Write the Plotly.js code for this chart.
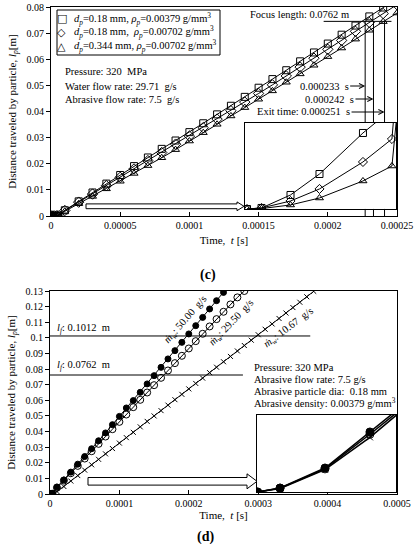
<!DOCTYPE html>
<html><head><meta charset="utf-8">
<script src="https://cdn.plot.ly/plotly-3.0.1.min.js"></script>
<style>html,body{margin:0;padding:0;background:#fff}#chart{width:419px;height:544px}</style>
</head><body><div id="chart"></div>
<script>
// ---------- data: panel (c) ----------
const tC = [0, 0.0000005, 0.0000015, 0.0000025, 0.000004, 0.000005,
  0.00001, 0.00002, 0.00003, 0.00004, 0.00005, 0.00006, 0.00007, 0.00008, 0.00009, 0.0001,
  0.00011, 0.00012, 0.00013, 0.00014, 0.00015, 0.00016, 0.00017, 0.00018, 0.00019, 0.0002,
  0.00021, 0.00022, 0.00023, 0.00024, 0.00025];
const lpSquare = [0, 0.0000012, 0.0000163, 0.0000407, 0.0000884, 0.000116,
  0.0022, 0.0056, 0.0090, 0.0124, 0.0157, 0.0191, 0.0224, 0.0257, 0.0289, 0.0321,
  0.0355, 0.0389, 0.0422, 0.0456, 0.0491, 0.0524, 0.0558, 0.0592, 0.0626, 0.0660,
  0.0694, 0.0729, 0.0764, 0.0798, 0.0832];
const lpDiamond = [0, 0.0000012, 0.0000093, 0.0000233, 0.0000547, 0.0000814,
  0.0021, 0.0053, 0.0084, 0.0116, 0.0148, 0.0180, 0.0212, 0.0243, 0.0275, 0.0306,
  0.0338, 0.0371, 0.0403, 0.0436, 0.0469, 0.0502, 0.0536, 0.0570, 0.0604, 0.0638,
  0.0672, 0.0707, 0.0741, 0.0775, 0.0809];
const lpTriangle = [0, 0.0000005, 0.0000047, 0.0000128, 0.0000326, 0.00005,
  0.0018, 0.0047, 0.0075, 0.0104, 0.0133, 0.0163, 0.0193, 0.0223, 0.0254, 0.0287,
  0.0319, 0.0351, 0.0383, 0.0415, 0.0447, 0.0479, 0.0512, 0.0544, 0.0577, 0.0610,
  0.0643, 0.0677, 0.0711, 0.0744, 0.0777];
const legendSymbols = ['□', '◇', '△'];
const namesC = [
  '<i>d</i><sub><i>p</i></sub>=0.18 mm, <i>ρ</i><sub><i>p</i></sub>=0.00379 g/mm<sup>3</sup>',
  '<i>d</i><sub><i>p</i></sub>=0.18 mm,\u00a0 <i>ρ</i><sub><i>p</i></sub>=0.00702 g/mm<sup>3</sup>',
  '<i>d</i><sub><i>p</i></sub>=0.344 mm, <i>ρ</i><sub><i>p</i></sub>=0.00702 g/mm<sup>3</sup>'];
const exitTimesDrawn = [0.000227, 0.000233, 0.000241];
const exitLabels = ['0.000233\u00a0 s', '0.000242\u00a0 s', 'Exit time: 0.000251\u00a0 s'];
const focusLineLevel = 0.0745;
const ticksCx = [0, 0.00005, 0.0001, 0.00015, 0.0002, 0.00025];
const ticksCxText = ['0', '0.00005', '0.0001', '0.00015', '0.0002', '0.00025'];
const ticksCy = [0, 0.01, 0.02, 0.03, 0.04, 0.05, 0.06, 0.07, 0.08];
const ticksCyText = ['0', '0.01', '0.02', '0.03', '0.04', '0.05', '0.06', '0.07', '0.08'];

// ---------- data: panel (d) ----------
const tD = [0, 0.0000005, 0.0000015, 0.0000025, 0.0000035,
  0.00001, 0.00002, 0.00003, 0.00004, 0.00005, 0.00006, 0.00007, 0.00008, 0.00009, 0.0001,
  0.00011, 0.00012, 0.00013, 0.00014, 0.00015, 0.00016, 0.00017, 0.00018, 0.00019, 0.0002,
  0.00021, 0.00022, 0.00023, 0.00024, 0.00025, 0.00026, 0.00027, 0.00028, 0.00029, 0.0003,
  0.00031, 0.00032, 0.00033, 0.00034, 0.00035, 0.00036, 0.00037, 0.00038];
const lpW50 = [0, 0.0000052, 0.0000312, 0.000078, 0.000125,
  0.0045, 0.0090, 0.0140, 0.0191, 0.0240, 0.0290, 0.0341, 0.0391, 0.0444, 0.0497,
  0.0551, 0.0598, 0.0651, 0.0705, 0.0758, 0.0811, 0.0865, 0.0918, 0.0971, 0.1025,
  0.1078, 0.1131, 0.1185, 0.1238, 0.1291, 0.1345];
const lpW29 = [0, 0.000005, 0.00003, 0.000075, 0.000122,
  0.0040, 0.0086, 0.0133, 0.0180, 0.0227, 0.0274, 0.0321, 0.0368, 0.0415, 0.0462,
  0.0509, 0.0556, 0.0603, 0.0650, 0.0697, 0.0744, 0.0791, 0.0838, 0.0885, 0.0932,
  0.0979, 0.1026, 0.1073, 0.1120, 0.1167, 0.1214, 0.1259, 0.1300];
const lpW10 = [0, 0.0000045, 0.000029, 0.000071, 0.00012,
  0.0016, 0.0048, 0.0083, 0.0118, 0.0153, 0.0187, 0.0222, 0.0257, 0.0291, 0.0326,
  0.0361, 0.0395, 0.0430, 0.0465, 0.0500, 0.0534, 0.0569, 0.0604, 0.0638, 0.0673,
  0.0708, 0.0742, 0.0777, 0.0812, 0.0847, 0.0881, 0.0916, 0.0951, 0.0985, 0.1020,
  0.1055, 0.1089, 0.1124, 0.1159, 0.1194, 0.1228, 0.1263, 0.1298];
const focusLengths = [0.1012, 0.0762];
const focusLabels = ['<i>l</i><sub><i>f</i></sub>: 0.1012\u00a0 m', '<i>l</i><sub><i>f</i></sub>: 0.0762\u00a0 m'];
const flowLabels = ['<i>ṁ</i><sub><i>w</i></sub>: 50.00\u00a0 g/s', '<i>ṁ</i><sub><i>w</i></sub>: 29.50\u00a0 g/s', '<i>ṁ</i><sub><i>w</i></sub>: 10.67\u00a0 g/s'];
const ticksDx = [0, 0.0001, 0.0002, 0.0003, 0.0004, 0.0005];
const ticksDxText = ['0', '0.0001', '0.0002', '0.0003', '0.0004', '0.0005'];
const ticksDy = [0, 0.01, 0.02, 0.03, 0.04, 0.05, 0.06, 0.07, 0.08, 0.09, 0.1, 0.11, 0.12, 0.13];
const ticksDyText = ['0', '0.01', '0.02', '0.03', '0.04', '0.05', '0.06', '0.07', '0.08', '0.09', '0.1', '0.11', '0.12', '0.13'];

// ---------- layout helpers ----------
const W = 419, H = 544;
const PX = p => p / W, PY = p => 1 - p / H;
const FONT = 'Liberation Serif, Times New Roman, serif';
const K = '#000';

function lineTr(x, y, xa, ya) {
  return {x: x, y: y, xaxis: xa, yaxis: ya, mode: 'lines', line: {color: K, width: 1}, showlegend: false, hoverinfo: 'skip'};
}
function markTr(x, y, xa, ya, sym, size) {
  return {x: x, y: y, xaxis: xa, yaxis: ya, mode: 'markers', showlegend: false,
    marker: {symbol: sym, size: size, color: K, line: {color: K, width: 1}}, hoverinfo: 'skip'};
}

const data = [];
// panel (c) main
[[lpSquare, 'square-open', 7], [lpDiamond, 'diamond-open', 8], [lpTriangle, 'triangle-up-open', 7]].forEach(s => {
  data.push(lineTr(tC, s[0], 'x', 'y'));
  data.push(markTr(tC, s[0], 'x', 'y', s[1], s[2]));
});
// panel (d) main
[[lpW50, 'circle', 6], [lpW29, 'circle-open', 7], [lpW10, 'x-thin-open', 5]].forEach(s => {
  data.push(lineTr(tD, s[0], 'x2', 'y2'));
  data.push(markTr(tD, s[0], 'x2', 'y2', s[1], s[2]));
});
// inset (c)
[[lpSquare, 'square-open', 7], [lpDiamond, 'diamond-open', 7], [lpTriangle, 'triangle-up-open', 7]].forEach(s => {
  data.push(lineTr(tC, s[0], 'x3', 'y3'));
  data.push(markTr(tC, s[0], 'x3', 'y3', s[1], s[2]));
});
// inset (d)
[[lpW50, 'circle', 8], [lpW29, 'circle-open', 8], [lpW10, 'x-thin-open', 6]].forEach(s => {
  const tr = lineTr(tD, s[0], 'x4', 'y4'); tr.line.width = 1.5;
  data.push(tr);
  data.push(markTr(tD, s[0], 'x4', 'y4', s[1], s[2]));
});

const axBase = {showline: true, mirror: true, linecolor: K, linewidth: 1, showgrid: false, zeroline: false,
  tickfont: {family: FONT, size: 10, color: K}, tickcolor: K, ticklen: 4};
const insetAx = {showline: true, mirror: true, linecolor: K, linewidth: 1, showgrid: false, zeroline: false,
  showticklabels: false, ticks: ''};

const layout = {
  width: W, height: H, margin: {l: 0, r: 0, t: 0, b: 0},
  paper_bgcolor: '#fff', plot_bgcolor: '#fff',
  font: {family: FONT, size: 10.5, color: K},
  showlegend: false,
  xaxis: Object.assign({}, axBase, {domain: [PX(51), PX(397)], range: [0, 0.00025], anchor: 'y',
    ticks: 'inside', tickvals: ticksCx, ticktext: ticksCxText,
    title: {text: 'Time,\u00a0 <i>t</i> [s]', font: {family: FONT, size: 11, color: K}, standoff: 6}}),
  yaxis: Object.assign({}, axBase, {domain: [PY(216), PY(7)], range: [0, 0.08], anchor: 'x',
    ticks: 'outside', tickvals: ticksCy, ticktext: ticksCyText,
    title: {text: 'Distance traveled by particle, <i>l</i><sub><i>p</i></sub>[m]', font: {family: FONT, size: 11, color: K}, standoff: 7}}),
  xaxis2: Object.assign({}, axBase, {domain: [PX(50), PX(397)], range: [0, 0.0005], anchor: 'y2',
    ticks: 'inside', tickvals: ticksDx, ticktext: ticksDxText,
    title: {text: 'Time,\u00a0 <i>t</i> [s]', font: {family: FONT, size: 11, color: K}, standoff: 2}}),
  yaxis2: Object.assign({}, axBase, {domain: [PY(494), PY(291)], range: [0, 0.13], anchor: 'x2',
    ticks: 'outside', tickvals: ticksDy, ticktext: ticksDyText,
    title: {text: 'Distance traveled by particle, <i>l</i><sub><i>p</i></sub>[m]', font: {family: FONT, size: 11, color: K}, standoff: 7}}),
  xaxis3: Object.assign({}, insetAx, {domain: [PX(245), PX(396)], range: [-0.00000007, 0.00000514], anchor: 'y3'}),
  yaxis3: Object.assign({}, insetAx, {domain: [PY(209), PY(123)], range: [0, 0.0001], anchor: 'x3'}),
  xaxis4: Object.assign({}, insetAx, {domain: [PX(257), PX(396)], range: [-0.000000013, 0.00000308], anchor: 'y4'}),
  yaxis4: Object.assign({}, insetAx, {domain: [PY(492), PY(415)], range: [0, 0.0001], anchor: 'x4'}),
  shapes: [],
  annotations: []
};

const S = layout.shapes, A = layout.annotations;
// legend frame (c)
S.push({type: 'rect', xref: 'paper', yref: 'paper', x0: PX(57), x1: PX(220), y0: PY(55), y1: PY(10),
  fillcolor: '#fff', line: {color: K, width: 1}});
// focus length line (c) and exit-time verticals (interrupted by the inset)
S.push({type: 'line', xref: 'x', yref: 'y', x0: 0.000197, x1: 0.000246, y0: focusLineLevel, y1: focusLineLevel, line: {color: K, width: 1}});
exitTimesDrawn.forEach(tv => {
  S.push({type: 'line', xref: 'x', yref: 'y', x0: tv, x1: tv, y0: focusLineLevel, y1: 0.0356, line: {color: K, width: 1}});
  S.push({type: 'line', xref: 'x', yref: 'y', x0: tv, x1: tv, y0: 0.0027, y1: 0, line: {color: K, width: 1}});
});
// l_f lines (d)
S.push({type: 'line', xref: 'x2', yref: 'y2', x0: 0, x1: 0.000375, y0: focusLengths[0], y1: focusLengths[0], line: {color: K, width: 1}});
S.push({type: 'line', xref: 'x2', yref: 'y2', x0: 0, x1: 0.000278, y0: focusLengths[1], y1: focusLengths[1], line: {color: K, width: 1}});
// hollow block arrows pointing to the insets
function blockArrow(x0, x1, xh, yc, hb, hh) {
  const p = (x, y) => PX(x) + ',' + PY(y);
  return {type: 'path', xref: 'paper', yref: 'paper', fillcolor: '#fff', line: {color: K, width: 1},
    path: 'M' + p(x0, yc - hb) + ' L' + p(x1, yc - hb) + ' L' + p(x1, yc - hh) + ' L' + p(xh, yc) +
      ' L' + p(x1, yc + hh) + ' L' + p(x1, yc + hb) + ' L' + p(x0, yc + hb) + ' Z'};
}
S.push(blockArrow(86, 237, 244, 206.3, 2.4, 4.4));
S.push(blockArrow(88, 247, 257, 481.3, 3.8, 7.5));

function txt(x, y, text, extra) {
  A.push(Object.assign({xref: 'paper', yref: 'paper', x: PX(x), y: PY(y), text: text, showarrow: false,
    xanchor: 'left', yanchor: 'middle', font: {family: FONT, size: 10.5, color: K}}, extra || {}));
}
// legend entries (c)
const legY = [18.5, 32.5, 46.5];
namesC.forEach((n, i) => {
  txt(61.5, legY[i], legendSymbols[i], {xanchor: 'center', font: {family: 'DejaVu Sans', size: 11, color: K}});
  txt(72, legY[i], n);
});
// (c) texts
txt(63, 72, 'Pressure: 320\u00a0 MPa');
txt(63, 86, 'Water flow rate: 29.71\u00a0 g/s');
txt(63, 99.5, 'Abrasive flow rate: 7.5\u00a0 g/s');
txt(248, 14.5, 'Focus length: 0.0762 m');
const arrowY = [86, 99, 112], arrowAx = [-41, -44, -81];
exitTimesDrawn.forEach((tv, i) => {
  A.push({xref: 'x', yref: 'paper', x: tv, y: PY(arrowY[i]), ax: arrowAx[i], ay: 0, text: exitLabels[i],
    showarrow: true, arrowhead: 5, arrowsize: 1, arrowwidth: 1, arrowcolor: K, standoff: 0,
    font: {family: FONT, size: 10.5, color: K}});
});
txt(208, 275, '<b>(c)</b>', {xanchor: 'center', font: {family: FONT, size: 14, color: K}});
// (d) texts
txt(55, 328, focusLabels[0]);
txt(55, 365.5, focusLabels[1]);
txt(252, 367, 'Pressure: 320 MPa');
txt(252, 379, 'Abrasive flow rate: 7.5 g/s');
txt(252, 391, 'Abrasive particle dia:\u00a0 0.18 mm');
txt(252, 402.5, 'Abrasive density: 0.00379 g/mm<sup>3</sup>');
txt(185, 320, flowLabels[0], {xanchor: 'center', textangle: -49});
txt(231, 323, flowLabels[1], {xanchor: 'center', textangle: -46});
txt(288, 328, flowLabels[2], {xanchor: 'center', textangle: -37});
txt(205, 537, '<b>(d)</b>', {xanchor: 'center', font: {family: FONT, size: 14, color: K}});

Plotly.newPlot('chart', data, layout, {staticPlot: true, displayModeBar: false});
</script>
</body></html>
